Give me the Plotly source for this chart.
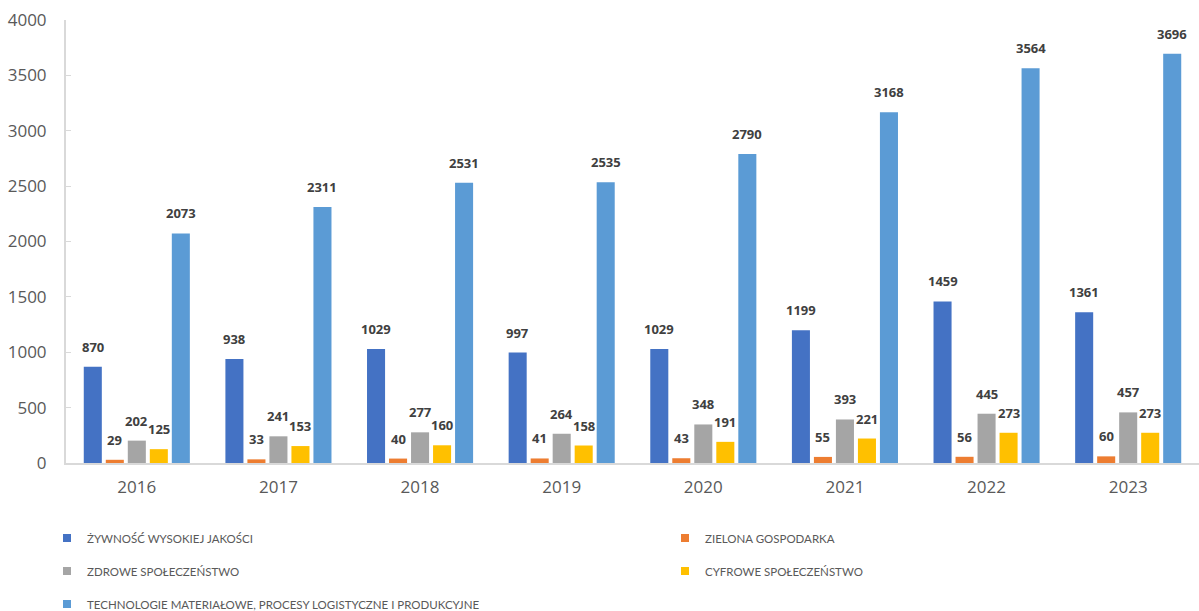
import plotly.graph_objects as go

years = ["2016", "2017", "2018", "2019", "2020", "2021", "2022", "2023"]

zywnosc = [870, 938, 1029, 997, 1029, 1199, 1459, 1361]
zielona = [29, 33, 40, 41, 43, 55, 56, 60]
zdrowe = [202, 241, 277, 264, 348, 393, 445, 457]
cyfrowe = [125, 153, 160, 158, 191, 221, 273, 273]
technologie = [2073, 2311, 2531, 2535, 2790, 3168, 3564, 3696]

series_names = [
    "ŻYWNOŚĆ WYSOKIEJ JAKOŚCI",
    "ZIELONA GOSPODARKA",
    "ZDROWE SPOŁECZEŃSTWO",
    "CYFROWE SPOŁECZEŃSTWO",
    "TECHNOLOGIE MATERIAŁOWE, PROCESY LOGISTYCZNE I PRODUKCYJNE",
]
series_values = [zywnosc, zielona, zdrowe, cyfrowe, technologie]
colors = ["#4472C4", "#ED7D31", "#A5A5A5", "#FFC000", "#5B9BD5"]

BARGAP = 0.223
GROUPGAP = 0.18
FONT = "Open Sans"
W, H = 1199, 611

# legend block: two columns, three rows (pixel anchors in the page)
legend_cols = [47, 665]
legend_rows = [538, 571, 604]

fig = go.Figure()

for name, vals, col in zip(series_names, series_values, colors):
    fig.add_trace(go.Bar(
        x=years, y=vals, name=name, marker_color=col,
        marker_line_width=0, showlegend=False, hoverinfo="x+y+name",
    ))

# one legend box per entry, laid out as a 2-column grid
legend_layouts = {}
for k, (name, col) in enumerate(zip(series_names, colors)):
    lid = "legend" if k == 0 else f"legend{k + 1}"
    fig.add_trace(go.Scatter(
        x=[None], y=[None], mode="markers", name=name,
        marker=dict(symbol="square", size=8, color=col),
        legend=lid, showlegend=True,
    ))
    legend_layouts[lid] = dict(
        orientation="h",
        xref="container", x=legend_cols[k % 2] / W, xanchor="left",
        yref="container", y=1 - legend_rows[k // 2] / H, yanchor="middle",
        font=dict(family="Lato", size=11.5, color="#595959"),
        itemwidth=30, bgcolor="rgba(0,0,0,0)",
    )

# value labels above each bar
slot = (1 - BARGAP) / len(series_values)
annotations = []
for k, vals in enumerate(series_values):
    for i, v in enumerate(vals):
        annotations.append(dict(
            x=i + (k - 2) * slot, y=v, xref="x", yref="y",
            text=f"<b>{v}</b>", showarrow=False,
            yanchor="middle", yshift=20,
            font=dict(family=FONT, size=13, color="#404040"),
        ))

fig.update_layout(
    width=W, height=H,
    margin=dict(l=66, r=0, t=20, b=148, autoexpand=False),
    paper_bgcolor="white", plot_bgcolor="white",
    barmode="group", bargap=BARGAP, bargroupgap=GROUPGAP,
    font=dict(family=FONT, color="#595959"),
    annotations=annotations,
    xaxis=dict(
        type="category", showgrid=False, showline=True,
        linecolor="#D9D9D9", linewidth=2, ticks="",
        tickfont=dict(family=FONT, size=17, color="#595959"),
        ticklabelstandoff=8,
    ),
    yaxis=dict(
        range=[0, 4000], tickvals=[0, 500, 1000, 1500, 2000, 2500, 3000, 3500, 4000],
        showgrid=False, zeroline=False, showline=True,
        linecolor="#D9D9D9", linewidth=2,
        ticks="inside", ticklen=5, tickcolor="#D9D9D9", tickwidth=1,
        tickfont=dict(family=FONT, size=17, color="#595959"),
        ticklabelstandoff=14,
    ),
    **legend_layouts,
)

fig.write_html("out.html")
